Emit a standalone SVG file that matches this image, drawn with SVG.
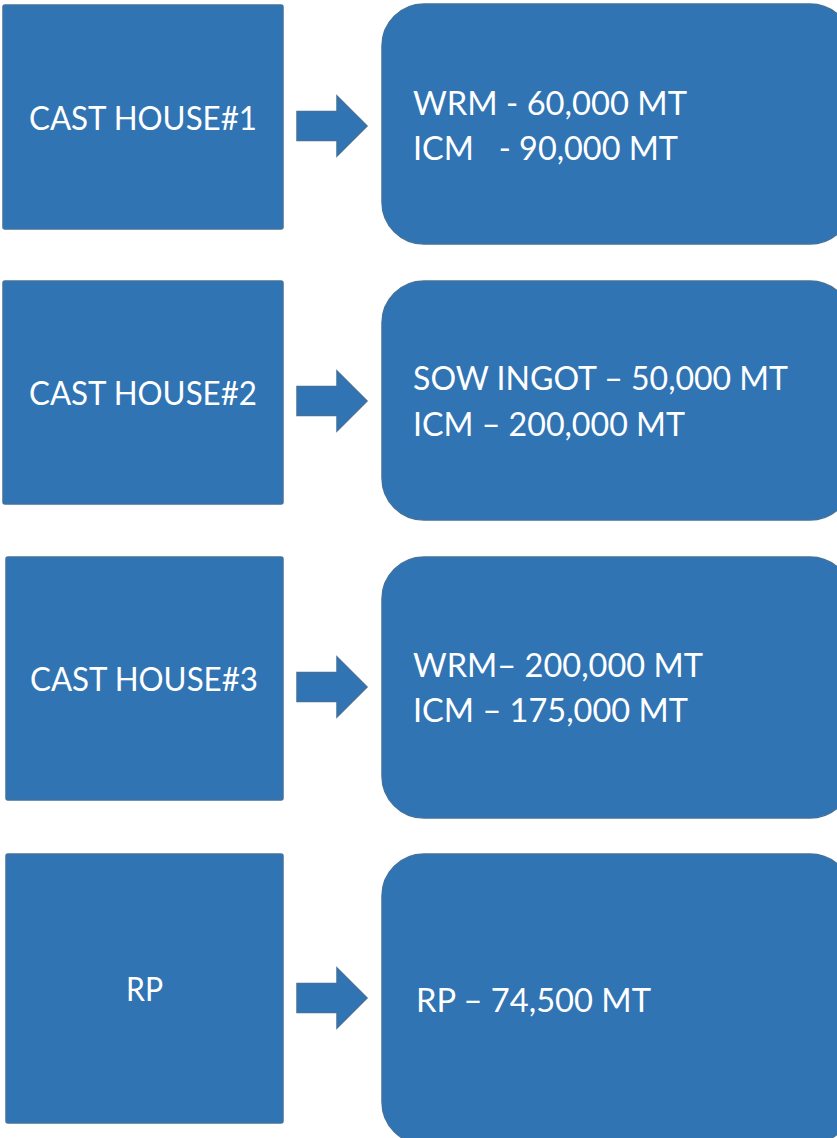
<svg xmlns="http://www.w3.org/2000/svg" width="837" height="1138" viewBox="0 0 837 1138">
  <style>
    .box { fill: #3074b4; stroke: #41719c; stroke-width: 1.5; }
    .arrow { fill: #3074b4; stroke: #41719c; stroke-width: 1.5; stroke-linejoin: miter; }
    .lbl { fill: #ffffff; font-family: Lato, "Open Sans", "Liberation Sans", sans-serif; font-size: 33px; white-space: pre; }
  </style>
  <defs>
    <!-- block arrow pointing right, origin at the shaft's left/centre -->
    <path id="blockArrow" class="arrow" d="M0,-14.5 H40 V-30 L70,0 L40,30 V14.5 H0 Z"/>
  </defs>

  <rect width="837" height="1138" fill="#ffffff"/>

  <!-- source blocks -->
  <g id="cast-house-1">
    <rect class="box" x="3" y="5" width="280" height="224" rx="2"/>
    <text class="lbl" x="29" y="130" textLength="228" lengthAdjust="spacingAndGlyphs">CAST HOUSE#1</text>
  </g>
  <g id="cast-house-2">
    <rect class="box" x="3" y="281" width="280" height="223" rx="2"/>
    <text class="lbl" x="29" y="405" textLength="228" lengthAdjust="spacingAndGlyphs">CAST HOUSE#2</text>
  </g>
  <g id="cast-house-3">
    <rect class="box" x="6" y="557" width="277" height="243" rx="2"/>
    <text class="lbl" x="30" y="691" textLength="228" lengthAdjust="spacingAndGlyphs">CAST HOUSE#3</text>
  </g>
  <g id="rp">
    <rect class="box" x="6" y="854" width="277" height="269" rx="2"/>
    <text class="lbl" x="126" y="1001" textLength="37" lengthAdjust="spacingAndGlyphs">RP</text>
  </g>

  <!-- output blocks -->
  <g id="output-1">
    <rect class="box" x="382" y="4" width="470" height="240" rx="42"/>
    <text class="lbl" x="413" y="115" textLength="274" lengthAdjust="spacingAndGlyphs">WRM - 60,000 MT</text>
    <text class="lbl" x="413" y="160" textLength="265" lengthAdjust="spacingAndGlyphs">ICM   - 90,000 MT</text>
  </g>
  <g id="output-2">
    <rect class="box" x="382" y="281" width="470" height="239" rx="42"/>
    <text class="lbl" x="413" y="390" textLength="375" lengthAdjust="spacingAndGlyphs">SOW INGOT – 50,000 MT</text>
    <text class="lbl" x="413" y="436" textLength="272" lengthAdjust="spacingAndGlyphs">ICM – 200,000 MT</text>
  </g>
  <g id="output-3">
    <rect class="box" x="382" y="557" width="470" height="261" rx="42"/>
    <text class="lbl" x="413" y="677" textLength="290" lengthAdjust="spacingAndGlyphs">WRM– 200,000 MT</text>
    <text class="lbl" x="413" y="722" textLength="275" lengthAdjust="spacingAndGlyphs">ICM – 175,000 MT</text>
  </g>
  <g id="output-4">
    <rect class="box" x="382" y="854" width="470" height="290" rx="42"/>
    <text class="lbl" x="416" y="1012" textLength="235" lengthAdjust="spacingAndGlyphs">RP – 74,500 MT</text>
  </g>

  <!-- connectors -->
  <g id="connectors">
    <use href="#blockArrow" x="297" y="126"/>
    <use href="#blockArrow" x="297" y="401"/>
    <use href="#blockArrow" x="297" y="687"/>
    <use href="#blockArrow" x="297" y="998"/>
  </g>
</svg>
